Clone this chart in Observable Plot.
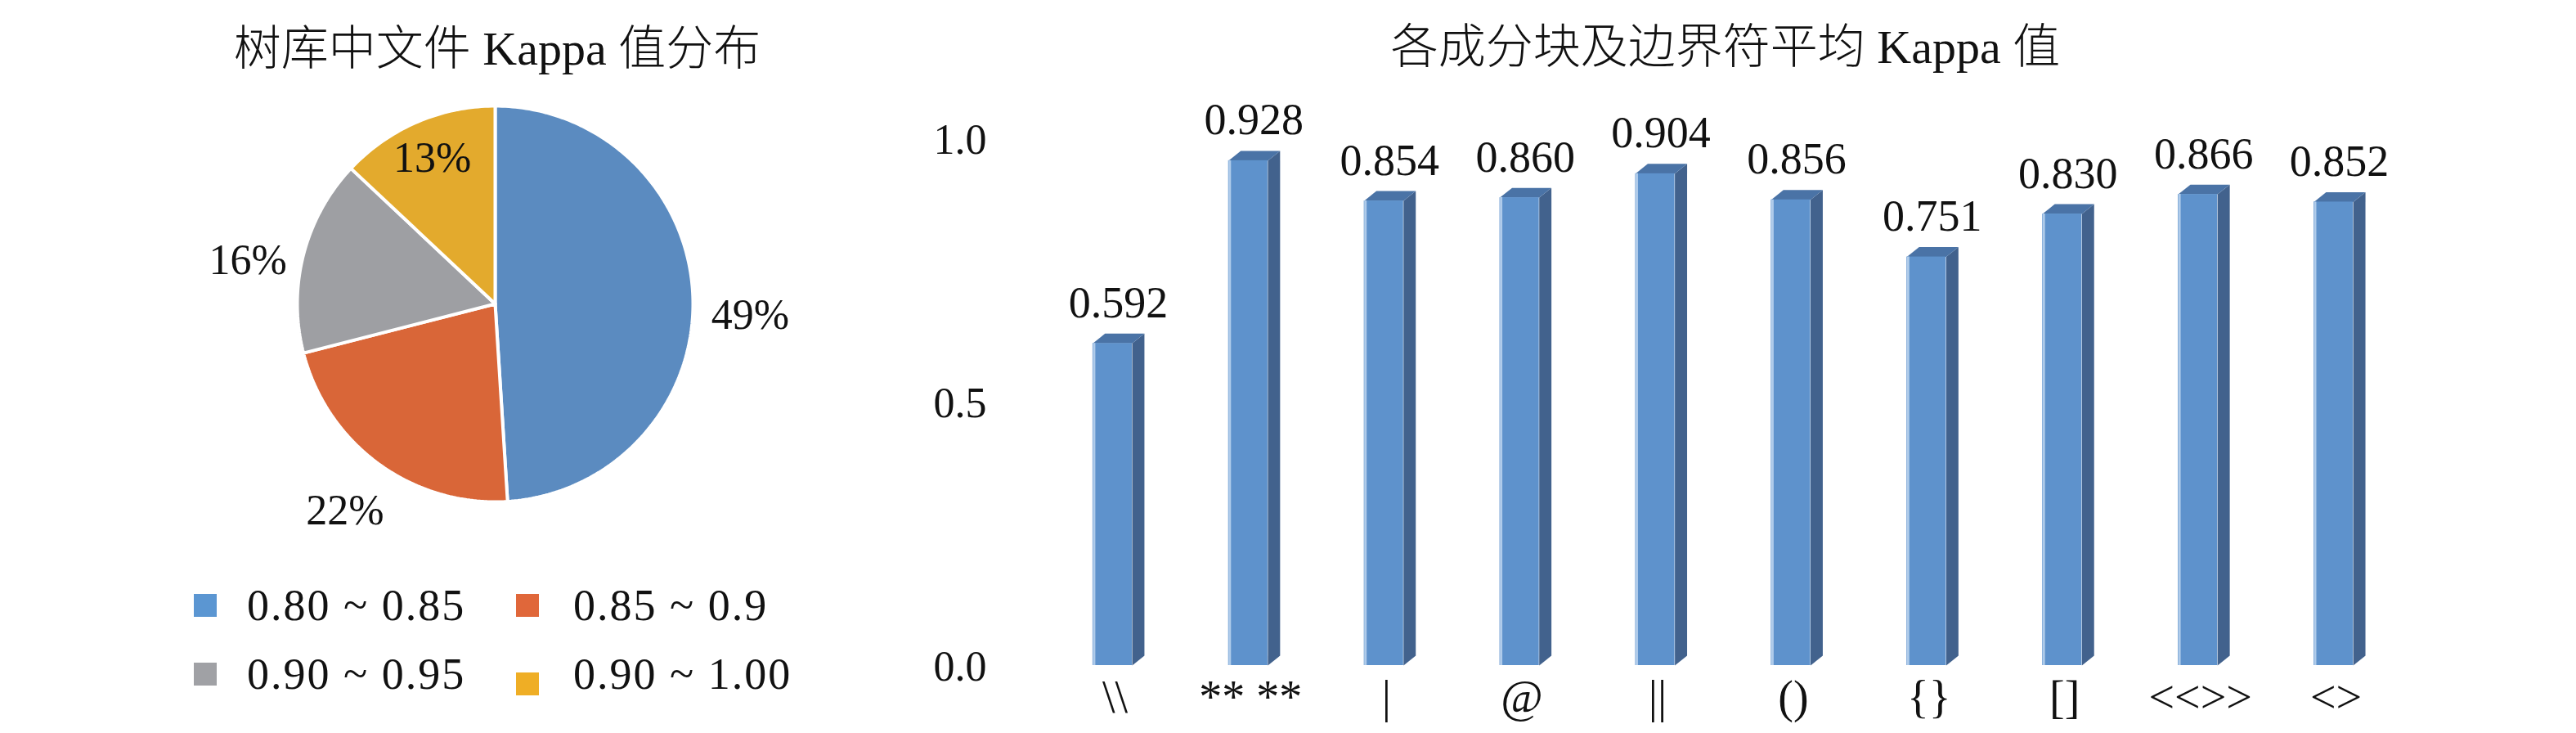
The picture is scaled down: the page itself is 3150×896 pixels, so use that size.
<!DOCTYPE html>
<html><head><meta charset="utf-8">
<script src="https://cdn.jsdelivr.net/npm/d3@7"></script>
<script src="https://cdn.jsdelivr.net/npm/@observablehq/plot@0.6"></script>
<style>
html,body{margin:0;padding:0;background:#fff;overflow:hidden}
#root{position:relative;width:3150px;height:896px;font-family:"Liberation Serif","Noto Sans CJK SC",serif;color:#111}
.title{position:absolute;font-size:58px;line-height:1;white-space:nowrap;transform:translate(-50%,-50%);font-weight:300}
.leg{position:absolute;font-size:54px;line-height:1;white-space:nowrap;transform:translateY(-50%);letter-spacing:2px}
.sw{position:absolute;width:28px;height:28px;transform:translateY(-50%)}
svg{position:absolute;overflow:visible}
</style></head><body><div id="root"></div>
<script>
// ---- data ----
const leftTitle = "树库中文件 Kappa 值分布";
const rightTitle = "各成分块及边界符平均 Kappa 值";
const pieLabels = ["0.80 ~ 0.85", "0.85 ~ 0.9", "0.90 ~ 0.95", "0.90 ~ 1.00"];
const piePercents = [49, 22, 16, 13];
const pieColors = ["#5B8BC0", "#D96638", "#9E9FA3", "#E3AA2D"];
const legendColors = ["#5B96D2", "#E0673A", "#A0A1A5", "#EFAE25"];
const barCategories = ["\\\\", "** **", "|", "@", "||", "()", "{}", "[]", "<<>>", "<>"];
const barValues = [0.592, 0.928, 0.854, 0.860, 0.904, 0.856, 0.751, 0.830, 0.866, 0.852];
const yTicks = [0, 0.5, 1.0];

const root = document.getElementById("root");
const FONT = '"Liberation Serif","Noto Sans CJK SC",serif';

function place(el, left, top) { el.style.left = left + "px"; el.style.top = top + "px"; root.appendChild(el); return el; }
function div(cls, text, left, top) { const d = document.createElement("div"); d.className = cls; if (text != null) d.textContent = text; return place(d, left, top); }

// ---- titles ----
div("title", leftTitle, 608, 60);
div("title", rightTitle, 2110, 58);

// ---- pie ----
const total = d3.sum(piePercents);
let acc = 0;
const slices = piePercents.map((p, i) => {
  const a0 = acc / total * 2 * Math.PI; acc += p; const a1 = acc / total * 2 * Math.PI;
  const n = Math.max(2, Math.ceil((a1 - a0) / (Math.PI / 180)));
  const pts = [{x: 0, y: 0}];
  for (let k = 0; k <= n; k++) { const a = a0 + (a1 - a0) * k / n; pts.push({x: Math.sin(a), y: Math.cos(a)}); }
  pts.push({x: 0, y: 0});
  const mid = (a0 + a1) / 2;
  const inside = i === piePercents.length - 1;
  const r = inside ? 0.8 : 1.29;
  const side = !inside && Math.abs(Math.cos(mid)) < 0.5;
  return {i, p, pts, lx: r * Math.sin(mid), ly: r * Math.cos(mid), side};
});
const pie = Plot.plot({
  width: 810, height: 600,
  marginLeft: 163, marginRight: 163, marginTop: 58, marginBottom: 58,
  x: {domain: [-1, 1], axis: null},
  y: {domain: [-1, 1], axis: null},
  style: {fontFamily: FONT, background: "transparent", color: "#111"},
  marks: [
    ...slices.map(s => Plot.line(s.pts, {x: "x", y: "y", fill: pieColors[s.i], stroke: "#fff", strokeWidth: 4, strokeLinejoin: "miter"})),
    Plot.text(slices.filter(s => !s.side), {x: "lx", y: "ly", text: d => d.p + "%", fontSize: 52, fill: "#111"}),
    Plot.text(slices.filter(s => s.side), {x: "lx", y: "ly", text: d => d.p + "%", fontSize: 52, fill: "#111", dy: 24})
  ]
});
place(pie, 200, 71);

// ---- legend ----
const legPos = [[237, 302, 740], [631, 701, 740], [237, 302, 824], [631, 701, 824]];
pieLabels.forEach((lab, i) => {
  const [sx, tx, cy] = legPos[i];
  const sw = div("sw", null, sx, cy + (i === 3 ? 12 : 0));
  sw.style.background = legendColors[i];
  div("leg", lab, tx, cy);
});

// ---- bars ----
const W = 0.145, DX = 0.09, DY = 0.018;
const bars = barValues.map((v, i) => ({i, v}));
const sidePts = bars.flatMap(b => [
  {i: b.i, x: b.i + W, y: 0}, {i: b.i, x: b.i + W + DX, y: DY},
  {i: b.i, x: b.i + W + DX, y: b.v + DY}, {i: b.i, x: b.i + W, y: b.v}]);
const topPts = bars.flatMap(b => [
  {i: b.i, x: b.i - W, y: b.v}, {i: b.i, x: b.i + W, y: b.v},
  {i: b.i, x: b.i + W + DX, y: b.v + DY}, {i: b.i, x: b.i - W + DX, y: b.v + DY}]);

const barPlot = Plot.plot({
  width: 2050, height: 896,
  marginLeft: 177, marginRight: 214, marginTop: 148, marginBottom: 83,
  x: {type: "linear", domain: [-0.5, 9.5]},
  y: {domain: [0, 1], axis: null},
  style: {fontFamily: FONT, background: "transparent", color: "#111"},
  marks: [
    Plot.line(sidePts, {x: "x", y: "y", z: "i", fill: "#42628D", stroke: "none"}),
    Plot.line(topPts, {x: "x", y: "y", z: "i", fill: "#4A73A6", stroke: "none"}),
    Plot.rect(bars, {x1: d => d.i - W, x2: d => d.i + W, y1: 0, y2: "v", fill: "#5E92CC"}),
    Plot.ruleX(bars, {x: d => d.i - W, y1: 0, y2: "v", stroke: "#AFCBEA", strokeWidth: 3, dx: 1.5}),
    Plot.text(bars, {x: "i", y: "v", text: d => d3.format(".3f")(d.v), lineAnchor: "bottom", dy: -32, dx: 7, fontSize: 54, fill: "#111"}),
    Plot.axisX(d3.range(barCategories.length), {tickFormat: i => barCategories[i], tickSize: 0, tickPadding: 18, fontSize: 56, dx: 3})
  ]
});
place(barPlot, 1100, 0);

// ---- y axis (back wall scale) ----
const axisPlot = Plot.plot({
  width: 130, height: 896,
  marginLeft: 110, marginRight: 20, marginTop: 171, marginBottom: 81,
  y: {domain: [0, 1]},
  style: {fontFamily: FONT, background: "transparent", color: "#111"},
  marks: [
    Plot.axisY(yTicks, {tickSize: 0, tickPadding: 4, tickFormat: d3.format(".1f"), fontSize: 52})
  ]
});
place(axisPlot, 1100, 0);
</script>
</body></html>
